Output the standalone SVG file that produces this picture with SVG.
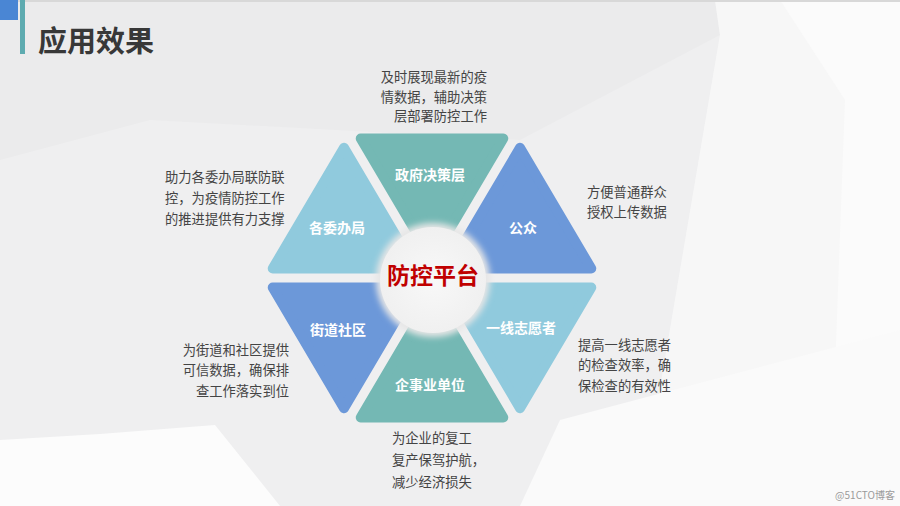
<svg xmlns="http://www.w3.org/2000/svg" width="900" height="506" viewBox="0 0 900 506">
  <defs>
    <style>
      .desc { font-family: "Noto Sans CJK SC", "Noto Sans", sans-serif; font-size: 13.3px; fill: #444444; }
      .lbl { font-family: "Noto Sans CJK SC", "Noto Sans", sans-serif; font-size: 14px; font-weight: 700; fill: #ffffff; text-anchor: middle; }
      .tri { stroke-width: 10; stroke-linejoin: round; }
      .teal { fill: #74b8b4; stroke: #74b8b4; }
      .blue { fill: #6c98d9; stroke: #6c98d9; }
      .light { fill: #90cadd; stroke: #90cadd; }
    </style>
    <filter id="halo" x="-30%" y="-30%" width="160%" height="160%">
      <feGaussianBlur stdDeviation="3"/>
    </filter>
    <radialGradient id="cg" cx="0.5" cy="0.5" r="0.5">
      <stop offset="0" stop-color="#f8f8f8"/>
      <stop offset="1" stop-color="#f0f0f0"/>
    </radialGradient>
  </defs>

  <!-- background -->
  <rect x="0" y="0" width="900" height="506" fill="#f3f3f4"/>
  <polygon points="0,0 715,0 720,35 640,506 0,506" fill="#efeff0"/>
  <polygon points="0,0 715,0 720,35 520,140 150,120 0,160" fill="#ebebec"/>
  <polygon points="715,0 900,0 900,506 640,506 720,35" fill="#f7f7f7"/>
  <polygon points="780,0 900,0 900,506 830,506 845,100" fill="#fbfbfb"/>
  <polygon points="0,440 100,434 215,425 280,506 0,506" fill="#fcfcfc"/>
  <polygon points="560,420 900,330 900,506 520,506" fill="#fafafa"/>
  <rect x="0" y="0" width="900" height="2" fill="#d8d8d8"/>

  <!-- header -->
  <g id="header">
    <rect x="0" y="0" width="18" height="20" fill="#4a86d4"/>
    <rect x="20" y="0" width="5" height="54" fill="#5eabb0"/>
    <text x="38" y="52" font-family="Noto Sans CJK SC, sans-serif" font-size="29" font-weight="700" fill="#383838">应用效果</text>
  </g>

  <!-- triangles -->
  <g id="node-zhengfu">
    <polygon class="tri teal" points="432,259.13 503.28,138.44 360.72,138.44"/>
    <text class="lbl" x="430" y="180">政府决策层</text>
  </g>
  <g id="node-gongzhong">
    <polygon class="tri blue" points="448.72,268.56 591.28,268.56 520,147.87"/>
    <text class="lbl" x="523" y="233">公众</text>
  </g>
  <g id="node-zhiyuanzhe">
    <polygon class="tri light" points="448.72,287.44 591.28,287.44 520,408.13"/>
    <text class="lbl" x="521" y="333">一线志愿者</text>
  </g>
  <g id="node-qishiye">
    <polygon class="tri teal" points="432,296.87 360.72,417.56 503.28,417.56"/>
    <text class="lbl" x="430" y="390">企事业单位</text>
  </g>
  <g id="node-jiedao">
    <polygon class="tri blue" points="415.28,287.44 272.72,287.44 344,408.13"/>
    <text class="lbl" x="338" y="335">街道社区</text>
  </g>
  <g id="node-weiban">
    <polygon class="tri light" points="415.28,268.56 272.72,268.56 344,147.87"/>
    <text class="lbl" x="337" y="233">各委办局</text>
  </g>

  <!-- center -->
  <g id="node-center">
    <circle cx="433" cy="280" r="57" fill="#e6e6e6" filter="url(#halo)"/>
    <circle cx="433" cy="280" r="53" fill="url(#cg)"/>
    <text x="433" y="284" text-anchor="middle" font-family="Noto Sans CJK SC, sans-serif" font-size="23" font-weight="700" fill="#c00000">防控平台</text>
  </g>

  <!-- descriptions -->
  <g id="desc-zhengfu" text-anchor="end">
    <text class="desc" x="487" y="82">及时展现最新的疫</text>
    <text class="desc" x="487" y="102">情数据，辅助决策</text>
    <text class="desc" x="487" y="121">层部署防控工作</text>
  </g>
  <g id="desc-weiban">
    <text class="desc" x="165" y="182">助力各委办局联防联</text>
    <text class="desc" x="165" y="203">控，为疫情防控工作</text>
    <text class="desc" x="165" y="224">的推进提供有力支撑</text>
  </g>
  <g id="desc-gongzhong">
    <text class="desc" x="587" y="197">方便普通群众</text>
    <text class="desc" x="587" y="217">授权上传数据</text>
  </g>
  <g id="desc-jiedao" text-anchor="end">
    <text class="desc" x="289" y="355">为街道和社区提供</text>
    <text class="desc" x="289" y="375">可信数据，确保排</text>
    <text class="desc" x="289" y="396">查工作落实到位</text>
  </g>
  <g id="desc-zhiyuanzhe">
    <text class="desc" x="578" y="350">提高一线志愿者</text>
    <text class="desc" x="578" y="370">的检查效率，确</text>
    <text class="desc" x="578" y="391">保检查的有效性</text>
  </g>
  <g id="desc-qishiye">
    <text class="desc" x="392" y="443">为企业的复工</text>
    <text class="desc" x="392" y="465">复产保驾护航，</text>
    <text class="desc" x="392" y="487">减少经济损失</text>
  </g>

  <text x="895" y="499" text-anchor="end" font-family="Noto Sans CJK SC, sans-serif" font-size="10" fill="#9a9a9a">@51CTO博客</text>
</svg>
